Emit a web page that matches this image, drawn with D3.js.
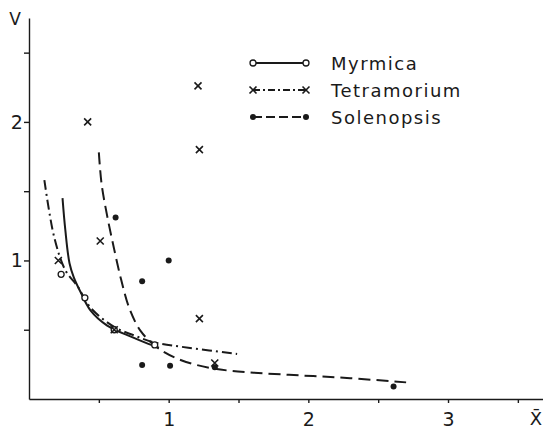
<!DOCTYPE html>
<html lang="en">
<head>
    <meta charset="UTF-8">
    <title>V vs X</title>
    <script src="https://d3js.org/d3.v7.min.js"></script>
    <style>
        body { margin: 0; background: #fff; }
        text { font-family: "DejaVu Sans", sans-serif; fill: #1a1a1a; }
    </style>
</head>
<body>
<div></div>
<script>
    // curves [x, V]
    var myrmicaCurve = [[0.24, 1.45], [0.26, 1.22], [0.29, 0.98], [0.32, 0.88], [0.37, 0.77],
        [0.44, 0.64], [0.56, 0.53], [0.73, 0.45], [0.85, 0.40], [0.93, 0.37]];
    var tetraCurve = [[0.11, 1.58], [0.18, 1.17], [0.26, 0.93], [0.35, 0.81], [0.44, 0.66],
        [0.61, 0.52], [0.75, 0.46], [0.89, 0.41], [1.14, 0.37], [1.49, 0.325]];
    var solenCurve = [[0.50, 1.78], [0.52, 1.55], [0.56, 1.32], [0.61, 1.08], [0.66, 0.86],
        [0.72, 0.65], [0.80, 0.49], [0.92, 0.37], [1.09, 0.28], [1.32, 0.22], [1.61, 0.19],
        [1.95, 0.17], [2.30, 0.15], [2.70, 0.12]];

    // observed points
    var myrmicaPts = [[0.23, 0.90], [0.40, 0.73], [0.61, 0.50], [0.90, 0.39]];
    var tetraPts = [[0.42, 2.0], [1.21, 2.26], [1.22, 1.80], [1.22, 0.58], [0.51, 1.14],
        [0.21, 1.0], [0.61, 0.50], [1.33, 0.26]];
    var solenPts = [[0.62, 1.31], [1.0, 1.0], [0.81, 0.85], [0.81, 0.245], [1.01, 0.24],
        [1.33, 0.23], [2.61, 0.09]];

    var yTicks = [0.5, 1, 1.5, 2, 2.5];
    var xTicks = [0.5, 1, 1.5, 2, 2.5, 3, 3.5];
    var names = ["Myrmica", "Tetramorium", "Solenopsis"];

    var w = 543, h = 430;
    var ink = "#1a1a1a";

    var svg = d3.select("div").append("svg")
        .attr("width", w).attr("height", h);

    var x = d3.scaleLinear().domain([0, 3.68]).range([29, 543]);
    var y = d3.scaleLinear().domain([0, 2.75]).range([399, 18]);

    //axes--------------------------
    var gx = svg.append("g").attr("transform", "translate(0," + y(0) + ")")
        .call(d3.axisBottom(x).tickValues(xTicks).tickSize(4).tickSizeOuter(0)
            .tickFormat(function(d) { return d % 1 === 0 ? d : ""; }));
    var gy = svg.append("g").attr("transform", "translate(" + x(0) + ",0)")
        .call(d3.axisLeft(y).tickValues(yTicks).tickSize(5).tickSizeOuter(0)
            .tickFormat(function(d) { return d % 1 === 0 ? d : ""; }));

    [gx, gy].forEach(function(g) {
        g.selectAll("path, line").attr("stroke", ink).attr("stroke-width", 1.4);
        g.selectAll("text").style("font-size", "19px").attr("fill", ink);
    });
    gx.selectAll("text").attr("dy", "1.05em");
    gy.selectAll("text").attr("dx", "0.1em");

    svg.append("text").attr("x", 15).attr("y", 25).attr("text-anchor", "middle")
        .style("font-size", "17px").text("V");
    svg.append("text").attr("x", 536).attr("y", 425).attr("text-anchor", "middle")
        .style("font-size", "18px").text("X\u0304");

    //curves------------------------
    var line = d3.line()
        .x(function(d) { return x(d[0]); })
        .y(function(d) { return y(d[1]); })
        .curve(d3.curveCatmullRom.alpha(0.5));

    var dashes = [null, "10,4,2,4", "12,6"];
    [myrmicaCurve, tetraCurve, solenCurve].forEach(function(c, i) {
        svg.append("path").datum(c).attr("d", line)
            .attr("fill", "none").attr("stroke", ink).attr("stroke-width", 2)
            .attr("stroke-dasharray", dashes[i]);
    });

    //markers-----------------------
    function circleMark(g, px, py) {
        g.append("circle").attr("cx", px).attr("cy", py).attr("r", 3)
            .attr("fill", "#fff").attr("stroke", ink).attr("stroke-width", 1.3);
    }
    function crossMark(g, px, py) {
        g.append("path").attr("d", "M" + (px - 3.5) + "," + (py - 3.5) + "L" + (px + 3.5) + "," + (py + 3.5)
            + "M" + (px - 3.5) + "," + (py + 3.5) + "L" + (px + 3.5) + "," + (py - 3.5))
            .attr("stroke", ink).attr("stroke-width", 1.6);
    }
    function dotMark(g, px, py) {
        g.append("circle").attr("cx", px).attr("cy", py).attr("r", 3).attr("fill", ink);
    }
    var marks = [circleMark, crossMark, dotMark];

    var gm = svg.append("g");
    [myrmicaPts, tetraPts, solenPts].forEach(function(pts, i) {
        pts.forEach(function(d) { marks[i](gm, x(d[0]), y(d[1])); });
    });

    //legend------------------------
    var lg = svg.append("g");
    names.forEach(function(n, i) {
        var ly = 63 + i * 27;
        lg.append("line").attr("x1", 253).attr("x2", 306).attr("y1", ly).attr("y2", ly)
            .attr("stroke", ink).attr("stroke-width", 2)
            .attr("stroke-dasharray", i === 1 ? "7,3,2,3" : (i === 2 ? "9,4" : null));
        marks[i](lg, 253, ly);
        marks[i](lg, 306, ly);
        lg.append("text").attr("x", 331).attr("y", ly + 7)
            .style("font-size", "18px").style("letter-spacing", "1.5px").text(n);
    });
</script>
</body>
</html>
